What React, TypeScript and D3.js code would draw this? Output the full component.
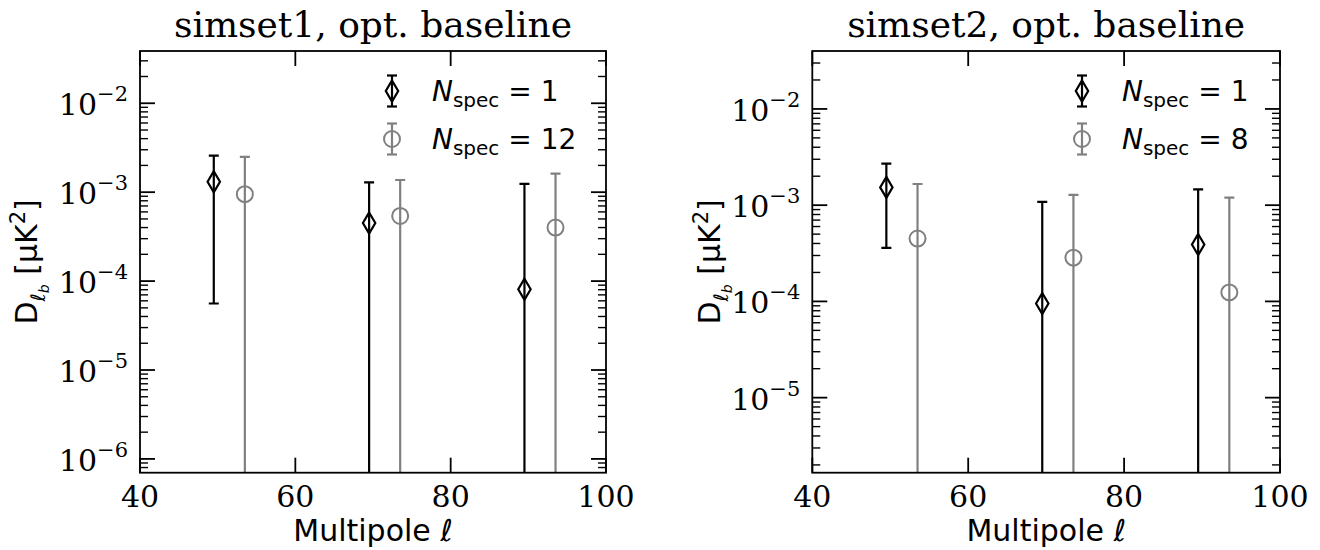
import React from "react";
import * as d3 from "d3";

// ---- data ----
const ellA = [49.5, 69.5, 89.5];
const ellB = [53.5, 73.5, 93.5];

const set1Single = [1.31e-3, 4.5e-4, 8.1e-5];
const set1SingleUp = [2.58e-3, 1.29e-3, 1.24e-3];
const set1SingleLo: (number | null)[] = [5.6e-5, null, null];
const set1Multi = [9.5e-4, 5.4e-4, 4.0e-4];
const set1MultiUp = [2.5e-3, 1.37e-3, 1.62e-3];
const set1MultiLo: (number | null)[] = [null, null, null];

const set2Single = [1.53e-3, 9.5e-5, 3.9e-4];
const set2SingleUp = [2.7e-3, 1.08e-3, 1.46e-3];
const set2SingleLo: (number | null)[] = [3.6e-4, null, null];
const set2Multi = [4.5e-4, 2.85e-4, 1.24e-4];
const set2MultiUp = [1.66e-3, 1.28e-3, 1.2e-3];
const set2MultiLo: (number | null)[] = [null, null, null];

const xTicks = [40, 60, 80, 100];
const titles = ["simset1, opt. baseline", "simset2, opt. baseline"];
const nspecLabels = [["1", "12"], ["1", "8"]];

const SERIF = "'DejaVu Serif', serif";
const SANS = "'DejaVu Sans', sans-serif";
const GRAY = "#808080";

type Series = { x: number[]; y: number[]; up: number[]; lo: (number | null)[]; color: string; marker: "d" | "o" };

type PanelProps = {
  id: string;
  left: number;
  right: number;
  top: number;
  bottom: number;
  yDomain: [number, number];
  title: string;
  series: Series[];
  legend: string[];
  legendX: number;
  yLabelX: number;
  decades: number[];
};

function Marker({ kind, cx, cy, color }: { kind: "d" | "o"; cx: number; cy: number; color: string }) {
  if (kind === "o") return <circle cx={cx} cy={cy} r={8} fill="none" stroke={color} strokeWidth={2} />;
  const hw = 6.2, hh = 10.5;
  return (
    <path
      d={`M${cx},${cy - hh}L${cx + hw},${cy}L${cx},${cy + hh}L${cx - hw},${cy}Z`}
      fill="none"
      stroke={color}
      strokeWidth={2.2}
    />
  );
}

function Panel(p: PanelProps) {
  const x = d3.scaleLinear().domain([40, 100]).range([p.left, p.right]);
  const y = d3.scaleLog().domain(p.yDomain).range([p.bottom, p.top]);
  const lo = Math.floor(Math.log10(p.yDomain[0]));
  const hi = Math.ceil(Math.log10(p.yDomain[1]));
  const minors: number[] = [];
  for (let e = lo; e <= hi; e++) for (let m = 2; m <= 9; m++) {
    const v = m * Math.pow(10, e);
    if (v > p.yDomain[0] && v < p.yDomain[1]) minors.push(v);
  }
  const majL = 15, minL = 8;
  const cap = 5;
  const midY = (p.top + p.bottom) / 2;
  return (
    <g>
      <defs>
        <clipPath id={p.id}>
          <rect x={p.left} y={p.top} width={p.right - p.left} height={p.bottom - p.top} />
        </clipPath>
      </defs>
      {/* data */}
      <g clipPath={`url(#${p.id})`}>
        {p.series.map((s, si) =>
          s.x.map((xv, i) => {
            const cx = x(xv);
            const yTop = y(s.up[i]);
            const loV = s.lo[i];
            const yBot = loV === null ? p.bottom + 20 : y(loV);
            return (
              <g key={`${si}-${i}`}>
                <line x1={cx} x2={cx} y1={yTop} y2={yBot} stroke={s.color} strokeWidth={2.2} />
                <line x1={cx - cap} x2={cx + cap} y1={yTop} y2={yTop} stroke={s.color} strokeWidth={2.2} />
                {loV !== null && (
                  <line x1={cx - cap} x2={cx + cap} y1={yBot} y2={yBot} stroke={s.color} strokeWidth={2.2} />
                )}
                <Marker kind={s.marker} cx={cx} cy={y(s.y[i])} color={s.color} />
              </g>
            );
          })
        )}
      </g>
      {/* ticks */}
      {xTicks.map((t) => (
        <g key={`xt${t}`}>
          <line x1={x(t)} x2={x(t)} y1={p.bottom} y2={p.bottom - majL} stroke="#000" strokeWidth={1.8} />
          <line x1={x(t)} x2={x(t)} y1={p.top} y2={p.top + majL} stroke="#000" strokeWidth={1.8} />
          <text x={x(t)} y={p.bottom + 34} textAnchor="middle" fontFamily={SERIF} fontSize={30}>
            {t}
          </text>
        </g>
      ))}
      {p.decades.map((e) => {
        const yy = y(Math.pow(10, e));
        return (
          <g key={`yt${e}`}>
            <line x1={p.left} x2={p.left + majL} y1={yy} y2={yy} stroke="#000" strokeWidth={1.8} />
            <line x1={p.right} x2={p.right - majL} y1={yy} y2={yy} stroke="#000" strokeWidth={1.8} />
            <text x={p.left - 12} y={yy + 12} textAnchor="end" fontFamily={SERIF} fontSize={30}>
              10
              <tspan dy={-14} fontSize={21}>{"\u2212" + Math.abs(e)}</tspan>
            </text>
          </g>
        );
      })}
      {minors.map((v, i) => (
        <g key={`mn${i}`}>
          <line x1={p.left} x2={p.left + minL} y1={y(v)} y2={y(v)} stroke="#000" strokeWidth={1.4} />
          <line x1={p.right} x2={p.right - minL} y1={y(v)} y2={y(v)} stroke="#000" strokeWidth={1.4} />
        </g>
      ))}
      {/* frame */}
      <rect x={p.left} y={p.top} width={p.right - p.left} height={p.bottom - p.top} fill="none" stroke="#000" strokeWidth={1.8} />
      {/* labels */}
      <text x={(p.left + p.right) / 2} y={37} textAnchor="middle" fontFamily={SERIF} fontSize={36}>
        {p.title}
      </text>
      <text x={(p.left + p.right) / 2} y={541} textAnchor="middle" fontFamily={SANS} fontSize={30}>
        Multipole <tspan fontStyle="italic">ℓ</tspan>
      </text>
      <text
        transform={`translate(${p.yLabelX},${midY}) rotate(-90)`}
        textAnchor="middle"
        fontFamily={SANS}
        fontSize={30}
      >
        D
        <tspan dy={8} fontSize={20} fontStyle="italic">ℓ</tspan>
        <tspan dy={4} fontSize={14} fontStyle="italic">b</tspan>
        <tspan dy={-12}> [μK</tspan>
        <tspan dy={-12} fontSize={21}>2</tspan>
        <tspan dy={12}>]</tspan>
      </text>
      {/* legend */}
      {p.series.map((s, i) => {
        const ly = 91 + i * 48;
        const lx = p.legendX;
        return (
          <g key={`lg${i}`}>
            <line x1={lx} x2={lx} y1={ly - 15.5} y2={ly + 15.5} stroke={s.color} strokeWidth={2.2} />
            <line x1={lx - cap} x2={lx + cap} y1={ly - 15.5} y2={ly - 15.5} stroke={s.color} strokeWidth={2.2} />
            <line x1={lx - cap} x2={lx + cap} y1={ly + 15.5} y2={ly + 15.5} stroke={s.color} strokeWidth={2.2} />
            <Marker kind={s.marker} cx={lx} cy={ly} color={s.color} />
            <text x={lx + 40} y={ly + 10} fontFamily={SANS} fontSize={28} fill="#000">
              <tspan fontStyle="italic">N</tspan>
              <tspan dy={6} fontSize={20}>spec</tspan>
              <tspan dy={-6}>{" = " + p.legend[i]}</tspan>
            </text>
          </g>
        );
      })}
    </g>
  );
}

export default function App() {
  return (
    <svg
      width={1320}
      height={550}
      style={{ position: "absolute", left: 0, top: 0, background: "#fff" }}
    >
      <rect width={1320} height={550} fill="#fff" />
      <Panel
        id="clipA"
        left={140}
        right={606}
        top={51}
        bottom={472.7}
        yDomain={[7.0e-7, 0.0387]}
        title={titles[0]}
        legend={nspecLabels[0]}
        legendX={392}
        yLabelX={37}
        decades={[-6, -5, -4, -3, -2]}
        series={[
          { x: ellA, y: set1Single, up: set1SingleUp, lo: set1SingleLo, color: "#000", marker: "d" },
          { x: ellB, y: set1Multi, up: set1MultiUp, lo: set1MultiLo, color: GRAY, marker: "o" },
        ]}
      />
      <Panel
        id="clipB"
        left={812.3}
        right={1280}
        top={51}
        bottom={472.7}
        yDomain={[1.66e-6, 0.040]}
        title={titles[1]}
        legend={nspecLabels[1]}
        legendX={1082}
        yLabelX={720}
        decades={[-5, -4, -3, -2]}
        series={[
          { x: ellA, y: set2Single, up: set2SingleUp, lo: set2SingleLo, color: "#000", marker: "d" },
          { x: ellB, y: set2Multi, up: set2MultiUp, lo: set2MultiLo, color: GRAY, marker: "o" },
        ]}
      />
    </svg>
  );
}
